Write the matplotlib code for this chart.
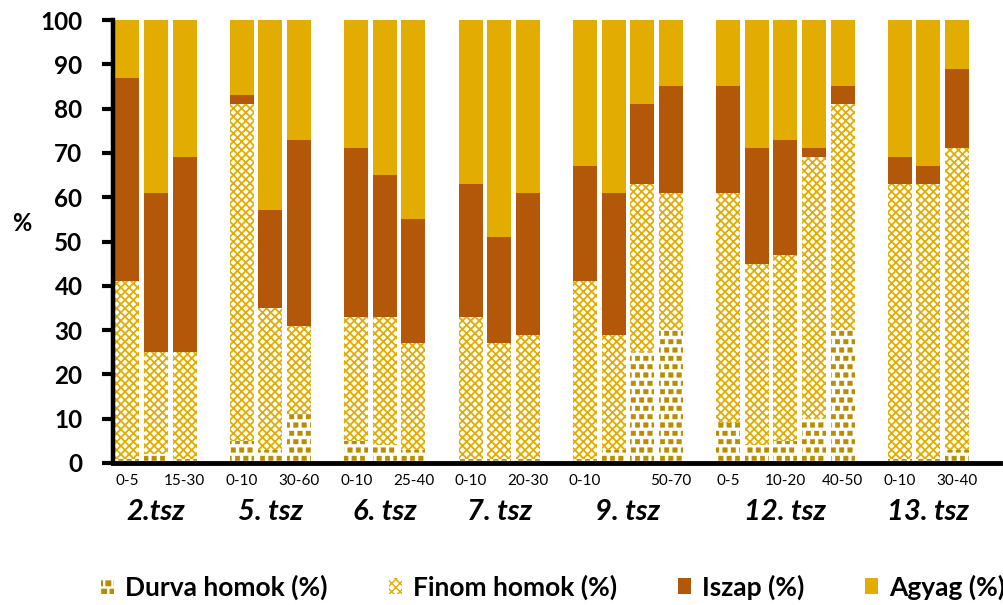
import matplotlib
matplotlib.use("Agg")
import matplotlib.pyplot as plt
import matplotlib.transforms as mtransforms
import matplotlib.hatch as mhatch
from matplotlib.patches import Patch
from matplotlib.path import Path
import numpy as np

# talaj szemcseösszetétel, mintavételi helyek (tsz) és mélységek
depths = ['0-5', '', '15-30', '',
          '0-10', '', '30-60', '',
          '0-10', '', '25-40', '',
          '0-10', '', '20-30', '',
          '0-10', '', '', '50-70', '',
          '0-5', '', '10-20', '', '40-50', '',
          '0-10', '', '30-40']
# None = üres hely a csoportok között
durva = [1, 2, 1, None, 5, 3, 11, None, 5, 4, 3, None, 1, 1, 1, None,
         1, 3, 25, 30, None, 9, 4, 5, 10, 30, None, 1, 1, 3]
finom_top = [41, 25, 25, None, 81, 35, 31, None, 33, 33, 27, None, 33, 27, 29, None,
             41, 29, 63, 61, None, 61, 45, 47, 69, 81, None, 63, 63, 71]
iszap_top = [87, 61, 69, None, 83, 57, 73, None, 71, 65, 55, None, 63, 51, 61, None,
             67, 61, 81, 85, None, 85, 71, 73, 71, 85, None, 69, 67, 89]
groups = ['2.tsz', '5. tsz', '6. tsz', '7. tsz', '9. tsz', '12. tsz', '13. tsz']
group_pos = [1, 5, 9, 13, 17.5, 23, 28]

c_agyag = '#E2AC00'
c_iszap = '#B35708'
c_finom = '#E2AC00'
c_durva = '#B98D00'


# durva homok: kis négyzetek mintázata ('*' helyett)
class SquareDots(mhatch.Shapes):
    size = 0.55
    filled = True

    def __init__(self, hatch, density):
        self.num_rows = hatch.count('*') * density
        self.shape_vertices = Path.unit_rectangle().vertices - 0.5
        self.shape_codes = Path.unit_rectangle().codes
        super().__init__(hatch, density)


mhatch._hatch_types = [SquareDots if t is mhatch.Stars else t for t in mhatch._hatch_types]

plt.rcParams['font.family'] = ['Lato', 'DejaVu Sans']

idx = [i for i, v in enumerate(durva) if v is not None]
d = np.array([durva[i] for i in idx], float)
f = np.array([finom_top[i] for i in idx], float) - d
s = np.array([iszap_top[i] for i in idx], float) - d - f
a = 100 - d - f - s

fig = plt.figure(figsize=(10.04, 6.05), dpi=100)
ax = fig.add_axes([113 / 1004, 1 - 463 / 605, 887 / 1004, 443 / 605])

w = 0.84
with plt.rc_context({'hatch.linewidth': 0.3}):
    ax.bar(idx, d, w, facecolor='white', edgecolor=c_durva, hatch='**', linewidth=0)
    h_durva = Patch(facecolor='white', edgecolor=c_durva, hatch='**', linewidth=0, label='Durva homok (%)')
with plt.rc_context({'hatch.linewidth': 1.3}):
    ax.bar(idx, f, w, bottom=d, facecolor='white', edgecolor=c_finom, hatch='xxxx', linewidth=0)
    h_finom = Patch(facecolor='white', edgecolor=c_finom, hatch='xxxx', linewidth=0, label='Finom homok (%)')
ax.bar(idx, s, w, bottom=d + f, color=c_iszap, linewidth=0)
ax.bar(idx, a, w, bottom=d + f + s, color=c_agyag, linewidth=0)

ax.set_xlim(-0.5, 30.5)
ax.set_ylim(0, 100)
ax.set_yticks(range(0, 101, 10))
ax.set_xticks(range(len(depths)))
ax.set_xticklabels(depths, fontsize=11)
ax.tick_params(axis='x', length=0, pad=8)
ax.tick_params(axis='y', length=8, width=3, pad=14, labelsize=17.5)
for lab in ax.get_yticklabels():
    lab.set_fontweight('bold')
for side in ['top', 'right']:
    ax.spines[side].set_visible(False)
ax.spines['left'].set_linewidth(3.2)
ax.spines['bottom'].set_linewidth(3.5)

ax.set_ylabel('%', fontsize=17, fontweight='bold', rotation=0, ha='center', va='center')
ax.yaxis.set_label_coords(-0.103, 0.54)

trans = mtransforms.blended_transform_factory(ax.transData, fig.transFigure)
for g, p in zip(groups, group_pos):
    ax.text(p, 1 - 512 / 605, g, transform=trans, ha='center', va='center',
            fontsize=21, fontweight='bold', style='italic')

handles = [h_durva, h_finom,
           Patch(facecolor=c_iszap, label='Iszap (%)'),
           Patch(facecolor=c_agyag, label='Agyag (%)')]
fig.legend(handles=handles, loc='center', bbox_to_anchor=(0.551, 1 - 587 / 605), ncol=4,
           frameon=False, prop={'size': 19, 'weight': 'bold'},
           handlelength=0.5, handleheight=0.6, handletextpad=0.42, columnspacing=2.3)

fig.savefig('out.png', dpi=100)
